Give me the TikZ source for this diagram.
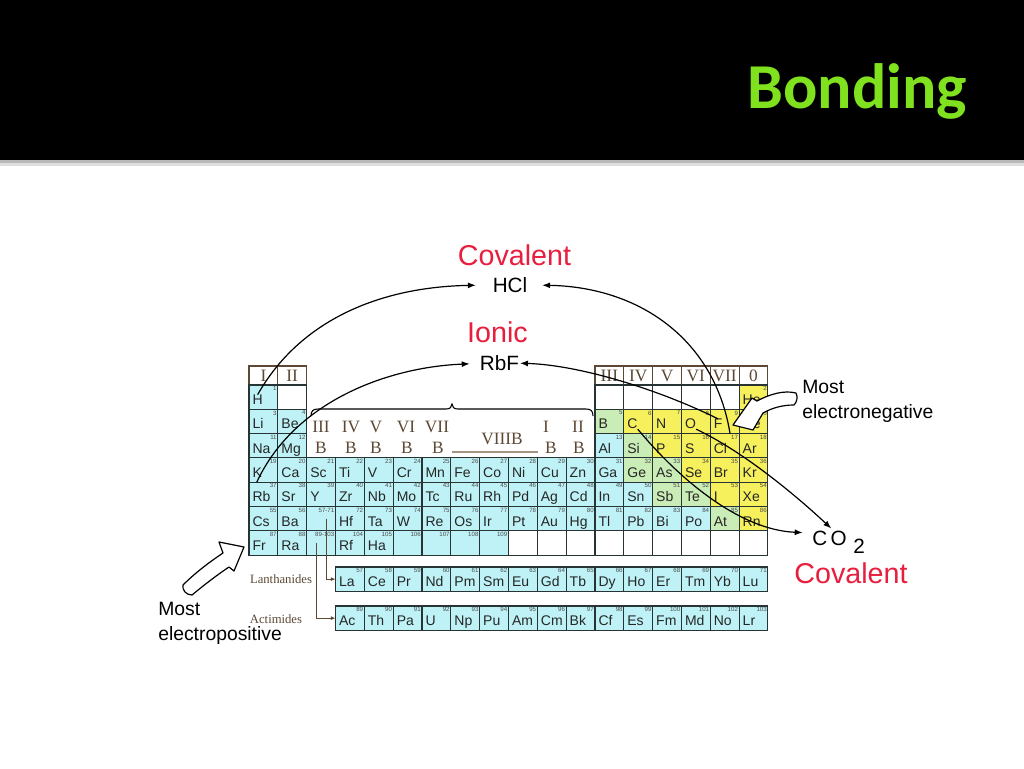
\documentclass[tikz,border=0pt]{standalone}
\usepackage{fontspec}
\setmainfont{Liberation Sans}
\newfontfamily\slidetitlefont{Carlito}
\newfontfamily\pserif{Liberation Serif}
\usetikzlibrary{arrows.meta}

\definecolor{slidegreen}{RGB}{128,226,30}
\definecolor{bondred}{RGB}{232,30,62}
\definecolor{metalcyan}{RGB}{190,242,246}
\definecolor{metalloid}{RGB}{202,236,182}
\definecolor{nonmetal}{RGB}{246,240,92}
\definecolor{groupbrown}{RGB}{92,72,52}
\definecolor{cellline}{RGB}{40,52,52}
\definecolor{underlinetan}{RGB}{165,148,128}

\tikzset{
  cell/.style={draw=cellline, line width=0.8pt, minimum width=21.62pt, minimum height=18.22pt, inner sep=0pt, outer sep=0pt},
  sym/.style={inner sep=0pt, font=\fontsize{10.5}{10.5}\selectfont, text=black!85},
  anum/.style={inner sep=0pt, font=\fontsize{4.6}{4.6}\selectfont, text=black!70},
  grphead/.style={draw=groupbrown, line width=0.8pt, minimum width=21.62pt, minimum height=14.25pt, inner sep=0pt, font=\pserif\fontsize{13}{13}\selectfont, text=groupbrown},
  grp/.style={inner sep=0pt, font=\pserif\fontsize{13}{13}\selectfont, text=groupbrown},
  serieslabel/.style={inner sep=0pt, font=\pserif\fontsize{9.5}{9.5}\selectfont, text=groupbrown},
  seriesline/.style={draw=groupbrown, line width=0.8pt, -{Latex[length=3.5pt,width=3pt]}},
  bond/.style={-{Latex[length=6pt,width=4.5pt]}, line width=0.9pt},
  compound/.style={inner sep=0pt, font=\fontsize{15.5}{15.5}\selectfont},
  kind/.style={inner sep=0pt, font=\fontsize{21.5}{21.5}\selectfont, text=bondred},
  note/.style={inner sep=0pt, align=left, font=\fontsize{14.5}{18.75}\selectfont},
  pointer/.style={draw=black, fill=white, line width=0.9pt, line join=round},
}

% column, top, symbol, atomic number, fill (yshift runs downwards here)
\newcommand{\elemcell}[5]{%
  \node[cell, fill=#5] (#3) at ({249+(#1-0.5)*28.83},{#2+12.15}) {};
  \node[sym, anchor=base west] (#3-s) at ([xshift=2.5pt,yshift=-3.6pt]#3.south west) {#3};
  \node[anum, anchor=north east] at ([xshift=-0.7pt,yshift=0.9pt]#3.north east) {#4};
}
% column, top, name, label, fill
\newcommand{\emptycell}[5]{%
  \node[cell, fill=#5] (#3) at ({249+(#1-0.5)*28.83},{#2+12.15}) {};
  \node[anum, anchor=north east] at ([xshift=-0.7pt,yshift=0.9pt]#3.north east) {#4};
}

\begin{document}
\begin{tikzpicture}[x=0.75pt,y=0.75pt,yscale=-1,xscale=1]
\useasboundingbox (0,0) rectangle (1024,768);
\fill[white] (0,0) rectangle (1024,768);

%Shape: Title band
\fill[black] (0,0) rectangle (1024,160);
\fill[gray!55] (0,160) rectangle (1024,163);
\fill[gray!25] (0,163) rectangle (1024,166);
% Text Node
\node[font=\slidetitlefont\bfseries\fontsize{48}{48}\selectfont, text=slidegreen, inner sep=0pt, anchor=base east] (title) at (967,108) {Bonding};

%Shape: Group headers
\foreach \c/\g in {1/I,2/II,13/III,14/IV,15/V,16/VI,17/VII,18/0}
  \node[grphead] (head-\g) at ({249+(\c-0.5)*28.83},375.5) {\g};

% period 1
\elemcell{1}{385}{H}{1}{metalcyan}
\emptycell{2}{385}{p1c2}{}{white}
\foreach \c in {13,...,17} {\emptycell{\c}{385}{p1c\c}{}{white}}
\elemcell{18}{385}{He}{2}{nonmetal}

% period 2
\elemcell{1}{409.3}{Li}{3}{metalcyan}
\elemcell{2}{409.3}{Be}{4}{metalcyan}
\foreach \c/\s/\f in {13/B/metalloid,14/C/nonmetal,15/N/nonmetal,16/O/nonmetal,17/F/nonmetal,18/Ne/nonmetal}
  {\pgfmathtruncatemacro\anr{\c-8}\elemcell{\c}{409.3}{\s}{\anr}{\f}}

% period 3
\elemcell{1}{433.6}{Na}{11}{metalcyan}
\elemcell{2}{433.6}{Mg}{12}{metalcyan}
\foreach \c/\s/\f in {13/Al/metalcyan,14/Si/metalloid,15/P/nonmetal,16/S/nonmetal,17/Cl/nonmetal,18/Ar/nonmetal}
  {\elemcell{\c}{433.6}{\s}{\c}{\f}}

% period 4
\foreach \c/\s/\f in {1/K/metalcyan,2/Ca/metalcyan,3/Sc/metalcyan,4/Ti/metalcyan,5/V/metalcyan,6/Cr/metalcyan,7/Mn/metalcyan,8/Fe/metalcyan,9/Co/metalcyan,10/Ni/metalcyan,11/Cu/metalcyan,12/Zn/metalcyan,13/Ga/metalcyan,14/Ge/metalloid,15/As/metalloid,16/Se/nonmetal,17/Br/nonmetal,18/Kr/nonmetal}
  {\pgfmathtruncatemacro\anr{\c+18}\elemcell{\c}{457.9}{\s}{\anr}{\f}}

% period 5
\foreach \c/\s/\f in {1/Rb/metalcyan,2/Sr/metalcyan,3/Y/metalcyan,4/Zr/metalcyan,5/Nb/metalcyan,6/Mo/metalcyan,7/Tc/metalcyan,8/Ru/metalcyan,9/Rh/metalcyan,10/Pd/metalcyan,11/Ag/metalcyan,12/Cd/metalcyan,13/In/metalcyan,14/Sn/metalcyan,15/Sb/metalloid,16/Te/metalloid,17/I/nonmetal,18/Xe/nonmetal}
  {\pgfmathtruncatemacro\anr{\c+36}\elemcell{\c}{482.2}{\s}{\anr}{\f}}

% period 6
\elemcell{1}{506.5}{Cs}{55}{metalcyan}
\elemcell{2}{506.5}{Ba}{56}{metalcyan}
\emptycell{3}{506.5}{series-la}{57-71}{metalcyan}
\foreach \c/\s/\f in {4/Hf/metalcyan,5/Ta/metalcyan,6/W/metalcyan,7/Re/metalcyan,8/Os/metalcyan,9/Ir/metalcyan,10/Pt/metalcyan,11/Au/metalcyan,12/Hg/metalcyan,13/Tl/metalcyan,14/Pb/metalcyan,15/Bi/metalcyan,16/Po/metalcyan,17/At/metalloid,18/Rn/nonmetal}
  {\pgfmathtruncatemacro\anr{\c+68}\elemcell{\c}{506.5}{\s}{\anr}{\f}}

% period 7
\elemcell{1}{530.8}{Fr}{87}{metalcyan}
\elemcell{2}{530.8}{Ra}{88}{metalcyan}
\emptycell{3}{530.8}{series-ac}{89-103}{metalcyan}
\elemcell{4}{530.8}{Rf}{104}{metalcyan}
\elemcell{5}{530.8}{Ha}{105}{metalcyan}
\foreach \c in {6,...,9} {\pgfmathtruncatemacro\anr{\c+100}\emptycell{\c}{530.8}{p7c\c}{\anr}{metalcyan}}
\foreach \c in {10,...,18} {\emptycell{\c}{530.8}{p7c\c}{}{white}}

% lanthanides and actinides
\foreach \s [count=\i] in {La,Ce,Pr,Nd,Pm,Sm,Eu,Gd,Tb,Dy,Ho,Er,Tm,Yb,Lu}
  {\pgfmathtruncatemacro\c{\i+3}\pgfmathtruncatemacro\anr{\i+56}\elemcell{\c}{567}{\s}{\anr}{metalcyan}}
\foreach \s [count=\i] in {Ac,Th,Pa,U,Np,Pu,Am,Cm,Bk,Cf,Es,Fm,Md,No,Lr}
  {\pgfmathtruncatemacro\c{\i+3}\pgfmathtruncatemacro\anr{\i+88}\elemcell{\c}{606}{\s}{\anr}{metalcyan}}

%Curve Lines: brace over the B groups
\draw[line width=0.8pt] (311,416) .. controls (311,411) and (313,409) .. (318,409) -- (446,409) .. controls (450,409) and (452,407) .. (452,404) .. controls (452,407) and (454,409) .. (458,409) -- (586,409) .. controls (591,409) and (593,411) .. (593,416);

% Text Node
\foreach \x/\g in {321/III,351/IV,376/V,406/VI,437/VII,546/I,578/II}
  \node[grp] (sub-\g) at (\x,427) {\g};
\foreach \x [count=\i] in {321,351,376,407,438,551,579}
  \node[grp] (sub-b\i) at (\x,448) {B};
\node[grp] (viiib) at (502,438.5) {VIIIB};
\draw[underlinetan, line width=1.4pt] (452,452) -- (538,452);

% Text Node
\node[serieslabel] (lan-label) at (281,579) {Lanthanides};
\node[serieslabel] (act-label) at (276,619) {Actimides};
\draw[seriesline] ([xshift=3.75pt]series-la.center) |- (La.west);
\draw[seriesline] ([xshift=-3.75pt]series-ac.center) |- (Ac.west);

% Text Node
\node[kind, anchor=base] (covalent-top) at (514.5,265) {Covalent};
\node[compound, anchor=base] (hcl) at (510,292) {HCl};
\node[kind, anchor=base] (ionic) at (497.5,342) {Ionic};
\node[compound, anchor=base] (rbf) at (499.5,370) {RbF};
\node[compound, anchor=base west] (co2) at (812,545) {C\,O\hspace{5pt}\raisebox{-6pt}{2}};
\node[kind, anchor=base] (covalent-low) at (851,583) {Covalent};
\node[note, anchor=north west] (neg-note) at (802,380) {Most\\electronegative};
\node[note, anchor=north west] (pos-note) at (158,602) {Most\\electropositive};

%Shape: Pointers
\draw[pointer] (733,425) -- (752,398) -- (757,401) .. controls (770,394) and (784,390) .. (796,393) .. controls (798,397) and (797,402) .. (794,405) .. controls (782,405) and (772,408) .. (763,413) -- (753,430) -- cycle;
\draw[pointer] (244,547) -- (219,542) -- (223,553) .. controls (208,563) and (194,574) .. (183,585) .. controls (182,590) and (186,595) .. (192,595) .. controls (204,585) and (217,575) .. (229,567) -- (234,571) -- cycle;

%Curve Lines
\draw[bond, shorten >=12.5pt] (H-s.north) .. controls (300,320) and (380,287) .. (hcl);
\draw[bond, shorten >=11pt] ([xshift=4pt]Cl.north) .. controls (715,340) and (640,287) .. (hcl);
\draw[bond, shorten >=7.5pt] ([xshift=-5pt]Rb.north) .. controls (295,400) and (390,367) .. (rbf);
\draw[bond, shorten >=0.5pt] (F-s.north) .. controls (660,390) and (580,365) .. (rbf);
\draw[bond, shorten >=7pt] (C-s.south east) .. controls (680,480) and (740,530) .. ([yshift=2pt]co2.north west);
\draw[bond, shorten >=2pt] (O-s.south east) .. controls (740,450) and (790,490) .. ([xshift=-4pt]co2.north);

\end{tikzpicture}
\end{document}
